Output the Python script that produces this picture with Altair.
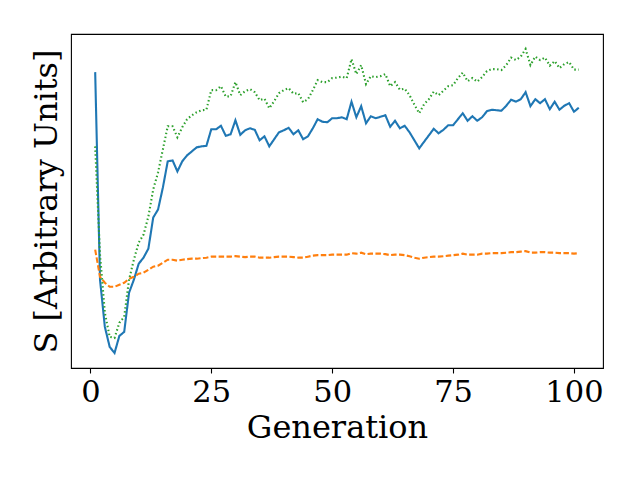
import altair as alt
import pandas as pd

generations = list(range(1, 102))

# Values (arbitrary units)
blue_solid = [
    327, 120, 73, 53, 47, 64, 68, 107, 120, 136,
    142, 151, 182, 190, 212, 238, 239, 228, 238, 244,
    248, 252, 253, 253.5, 270, 270, 273.5, 263.5, 265, 279,
    264.5, 269, 271, 269.5, 259, 263, 253, 260, 267, 269,
    271.5, 265, 269, 260, 263, 271, 280, 277.5, 277, 281,
    281, 282, 280, 297.5, 282, 293, 276, 283, 281, 282.5,
    284, 272.5, 278.5, 271, 273.5, 267, 259, 251, 257.5, 264,
    270.5, 266, 269.5, 274, 274, 280, 286, 278.5, 283, 278.5,
    282, 288, 289.5, 289, 288.5, 293.5, 299.5, 297.5, 300, 307,
    293, 300, 296, 300, 290, 297.5, 289.5, 293.5, 296, 287.5,
    291.5,
]

orange_dashed = [
    150, 123, 117, 113, 113, 115, 117, 121, 123, 126,
    127, 130, 133, 134, 137, 140, 140, 139, 140, 140.5,
    141, 141, 141.5, 142, 143, 143, 143, 143, 143, 143.5,
    143, 142.5, 143, 143, 142, 142, 142, 142.5, 143, 143,
    143, 142.5, 142, 142, 143, 144, 144.5, 144.5, 144.5, 145,
    145, 145, 145, 146.5, 146, 147, 145.5, 146, 146, 146,
    145.5, 144.5, 145, 145, 144.5, 143.5, 142, 141, 142, 142.5,
    143, 143, 143.5, 144, 144.5, 145, 146, 145, 145, 145,
    146, 146, 146.5, 146.5, 146.5, 147, 147.5, 147.5, 148, 148.5,
    147, 147, 147.5, 147.5, 147, 147, 146.5, 146.5, 146.5, 146,
    146.5,
]

green_dotted = [
    253, 145, 87, 63, 62, 77, 83, 120, 140, 157,
    165, 183, 210, 227, 250, 273, 273, 262, 272, 280,
    284, 287, 289, 289.5, 309, 309, 313, 302.5, 303, 317,
    304, 308, 310, 307, 299, 300.5, 291, 298, 306, 309,
    311, 305.5, 306, 297, 300, 309, 319, 317, 317, 321,
    321.5, 322.5, 321, 340, 325, 334, 315, 323, 322, 323,
    325, 313, 317, 309.5, 310.5, 304, 294.5, 286, 295, 300,
    307.5, 304, 308.5, 313, 314, 321, 326.5, 318, 321, 317.5,
    322, 328, 330, 330, 329, 334, 341.5, 339, 342.5, 350,
    334, 342.5, 339, 341.5, 333.5, 338, 331, 335, 337, 329.5,
    329.5,
]

x_ticks = [0, 25, 50, 75, 100]

FONT = "DejaVu Serif"

x_enc = alt.X(
    "gen:Q",
    scale=alt.Scale(domain=[-4, 106], nice=False, zero=False),
    axis=alt.Axis(
        title="Generation",
        values=x_ticks,
        format="d",
        grid=False,
        domain=False,
        tickSize=5,
        tickWidth=1.1,
        tickColor="black",
        labelPadding=4,
        labelFontSize=30.5,
        labelFont=FONT,
        labelColor="black",
        titleFontSize=32,
        titleFont=FONT,
        titleFontWeight="normal",
        titleColor="black",
        titlePadding=5,
    ),
)

y_enc = alt.Y(
    "s:Q",
    scale=alt.Scale(domain=[32, 365], nice=False, zero=False),
    axis=alt.Axis(
        title="S [Arbitrary Units]",
        labels=False,
        ticks=False,
        grid=False,
        domain=False,
        titleFontSize=32,
        titleFont=FONT,
        titleFontWeight="normal",
        titleColor="black",
        titlePadding=8,
    ),
)


def series(values, color, dash):
    df = pd.DataFrame({"gen": generations, "s": values})
    return alt.Chart(df).mark_line(
        color=color, strokeWidth=2.1, strokeDash=dash, strokeCap="butt"
    ).encode(x=x_enc, y=y_enc)


chart = alt.layer(
    series(blue_solid, "#1f77b4", [1, 0]),
    series(orange_dashed, "#ff7f0e", [5.5, 2.4]),
    series(green_dotted, "#2ca02c", [1.5, 2.5]),
).properties(
    width=532,
    height=334,
    padding={"left": 63, "top": 26, "right": 29, "bottom": 104},
    autosize="none",
    background="white",
).configure_view(
    stroke="black", strokeWidth=1.1
)

chart.save("out.html", embed_options={"renderer": "svg", "actions": False})
